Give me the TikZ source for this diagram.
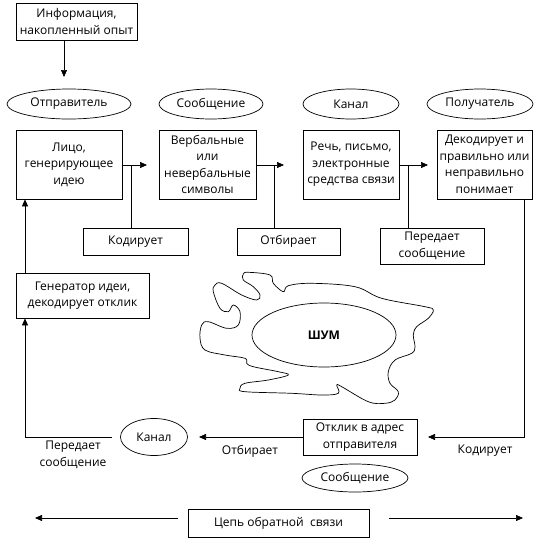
\documentclass[tikz,border=0pt]{standalone}
\usepackage{fontspec}
\setmainfont{Open Sans}
\usetikzlibrary{shapes.geometric,arrows.meta}
\begin{document}
\begin{tikzpicture}[x=1pt,y=-1pt,
  every node/.style={font=\fontsize{12}{16.5}\selectfont, inner sep=1pt},
  box/.style={draw, line width=0.7pt, align=center},
  oval/.style={draw, ellipse, line width=0.7pt, inner sep=0pt},
  ln/.style={line width=0.7pt},
  arr/.style={line width=0.7pt, -{Triangle[length=7pt,width=6pt]}},
  lbl/.style={align=center}]
\useasboundingbox (0,0) rectangle (542,542);
% top
\node[box, minimum width=121pt, minimum height=37pt] (info) at (76.5,21.5) {Информация,\\накопленный опыт};
\coordinate (infoend) at (64,77);
\draw[arr] (info.south -| infoend) -- (infoend);
% ellipses
\node[oval, minimum width=124pt, minimum height=30pt] (e1) at (69,104) {Отправитель};
\node[oval, minimum width=104pt, minimum height=30pt] (e2) at (211,104) {Сообщение};
\node[oval, minimum width=96pt, minimum height=30pt] (e3) at (351,104) {Канал};
\node[oval, minimum width=106pt, minimum height=30pt] (e4) at (480,104) {Получатель};
% main boxes
\node[box, minimum width=106pt, minimum height=69pt] (lico) at (69,164.5) {Лицо,\\генерирующее\\идею};
\node[box, minimum width=97pt, minimum height=69pt] (verb) at (207.5,164.5) {Вербальные\\или\\невербальные\\символы};
\node[box, minimum width=96pt, minimum height=69pt] (rech) at (351,164.5) {Речь, письмо,\\электронные\\средства связи};
\node[box, minimum width=95pt, minimum height=69pt] (dekod) at (484.5,164.5) {Декодирует и\\правильно или\\неправильно\\понимает};
\coordinate (t1) at (147,165);
\coordinate (t2) at (284,165);
\coordinate (t3) at (428,165);
\draw[arr] (lico.east |- t1) -- (t1);
\draw[arr] (verb.east |- t2) -- (t2);
\draw[arr] (rech.east |- t3) -- (t3);
% action boxes
\node[box, minimum width=105pt, minimum height=27pt] (kod) at (135.5,241.5) {Кодирует};
\node[box, minimum width=103pt, minimum height=27pt] (otb) at (288.5,241.5) {Отбирает};
\node[box, minimum width=104pt, minimum height=36pt] (pered) at (432,246) {Передает\\сообщение};
\coordinate (j1) at (131,165);
\coordinate (j2) at (274,165);
\coordinate (j3) at (408,165);
\draw[ln] (kod.north -| j1) -- (j1);
\draw[ln] (otb.north -| j2) -- (j2);
\draw[ln] (pered.north -| j3) -- (j3);
% noise
\draw[line width=0.7pt] plot[smooth cycle, tension=0.6] coordinates {
 (248.3,272.3) (270,275) (273.3,283.3) (283.3,291.7) (288.3,285.7) (311.7,283.3)
 (355,286.7) (381.7,298.3) (425,306.7) (433.3,310) (428.3,318.3) (416.7,326.7)
 (413.3,335) (415,346.7) (411.7,353.3) (395,360) (388.3,371.7) (390,383.3)
 (398.3,391.7) (395,400) (385,403.3) (368.3,401.7) (341.7,386.7) (336.7,385)
 (338.3,393.3) (321.7,395) (291.7,393.3) (245,391.7) (240,388.3) (245,383.3)
 (268.3,380) (288.3,375) (278.3,371.7) (253.3,366.7) (246.7,363.3) (245,358.3)
 (225,355) (205,350) (200,338.3) (201.7,325) (208.3,321.7) (226.7,328.3)
 (238.3,325) (240,311.7) (233.3,305) (228.3,311.7) (220,308.3) (213.3,291.7)
 (215,285) (221.7,283.3) (241.7,295) (256.7,300) (260,295) (253.3,286.7)
 (243.3,280) (243.3,274)};
\node[oval, minimum width=144pt, minimum height=64pt, font=\fontsize{12}{16}\selectfont\bfseries] (shum) at (324,335) {ШУМ};
% feedback
\node[box, minimum width=133pt, minimum height=45pt] (gen) at (82.5,295.5) {Генератор идеи,\\декодирует отклик};
\node[box, minimum width=114pt, minimum height=36pt] (otkl) at (360,437) {Отклик в адрес\\отправителя};
\node[oval, minimum width=67pt, minimum height=37pt] (kan2) at (154,437) {Канал};
\node[oval, minimum width=106pt, minimum height=28pt] (soob2) at (355,478) {Сообщение};
\coordinate (r1) at (524,437);
\coordinate (r2) at (428,437);
\coordinate (m1) at (199,437);
\coordinate (l1) at (112,437);
\coordinate (l2) at (25,437);
\draw[arr] (dekod.south -| r1) -- (r1) -- (r2);
\draw[arr] (otkl.west) -- (m1);
\draw[arr] (l1) -- (l2) -- (gen.south -| l2);
\draw[arr] (gen.north -| l2) -- (lico.south -| l2);
\node[lbl] (lk) at (485,451) {Кодирует};
\node[lbl] (lo) at (250,451) {Отбирает};
\node[lbl] (lp) at (73,455) {Передает\\сообщение};
% bottom
\node[box, minimum width=181pt, minimum height=28pt] (cep) at (278.5,523) {Цепь обратной \ связи};
\coordinate (b1) at (178,518);
\coordinate (b2) at (35,518);
\coordinate (b3) at (389,518);
\coordinate (b4) at (523,518);
\draw[arr] (b1) -- (b2);
\draw[arr] (b3) -- (b4);
\end{tikzpicture}
\end{document}
